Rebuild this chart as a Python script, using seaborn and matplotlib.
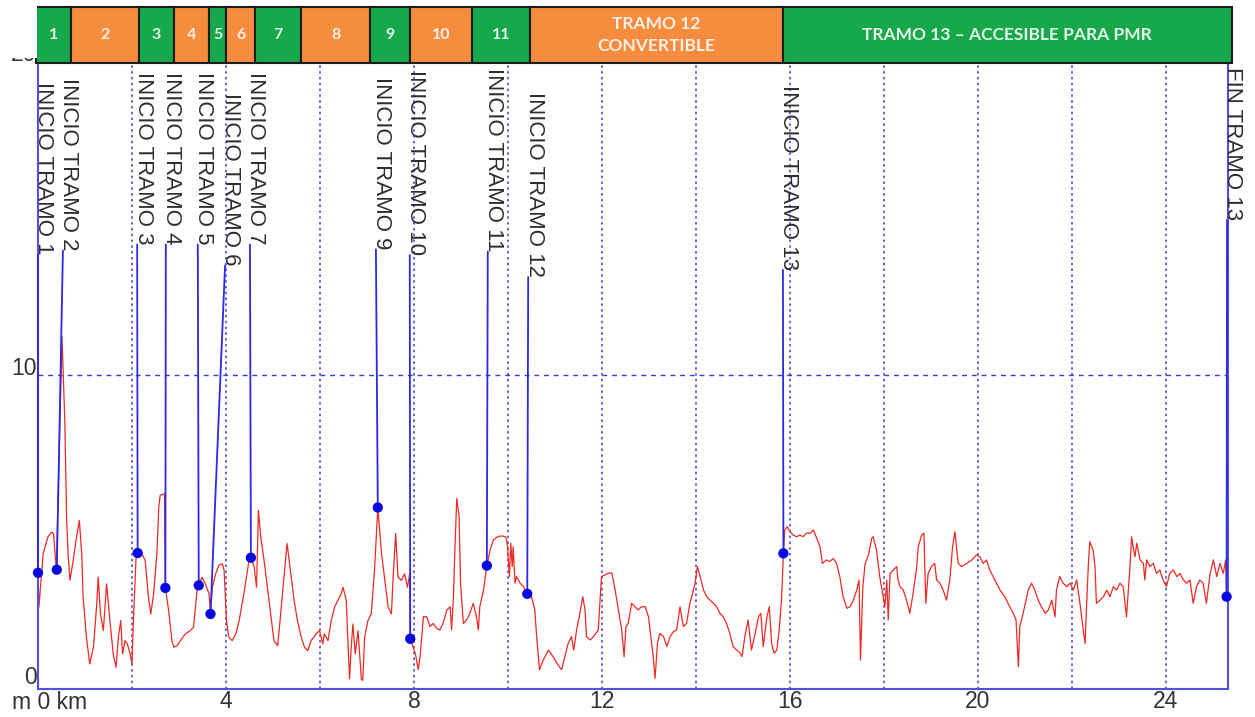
import matplotlib
matplotlib.use("Agg")
import matplotlib.pyplot as plt
import pandas as pd
import seaborn as sns
from matplotlib.patches import Rectangle

# perfil: distancia (km) y valor (m), por trozos
km_a = [0.00, 0.02, 0.11, 0.21, 0.29, 0.33, 0.39, 0.45, 0.51, 0.57,
        0.61, 0.64, 0.68, 0.75, 0.82, 0.88, 0.93, 0.96, 1.03, 1.10,
        1.18, 1.25, 1.28, 1.33, 1.39, 1.46, 1.53, 1.60, 1.66, 1.71,
        1.76, 1.80, 1.85, 1.90, 1.96, 2.00, 2.03, 2.09, 2.12, 2.21,
        2.28, 2.35, 2.40, 2.46, 2.53, 2.57, 2.60, 2.69, 2.71, 2.78,
        2.85, 2.89, 2.96, 3.03, 3.14, 3.24, 3.31, 3.39, 3.42, 3.49,
        3.56, 3.64, 3.67, 3.71, 3.78, 3.85, 3.92, 3.96, 4.01, 4.06,
        4.13, 4.21, 4.28, 4.38, 4.49, 4.53, 4.60, 4.65, 4.69, 4.74,
        4.81, 4.88, 4.95, 5.02, 5.10, 5.17, 5.24, 5.30, 5.38, 5.45,
        5.52, 5.60, 5.67, 5.74, 5.81, 5.92, 5.99, 6.06, 6.09, 6.17,
        6.24, 6.31, 6.38, 6.45, 6.49, 6.56, 6.59, 6.63, 6.66, 6.70,
        6.75, 6.81, 6.88, 6.91, 6.95, 7.02, 7.09, 7.16, 7.23, 7.31,
        7.38, 7.45, 7.52, 7.56, 7.61, 7.66, 7.73, 7.80, 7.86, 7.91,
        7.92, 8.03, 8.09]
val_a = [3.70, 2.61, 4.31, 4.84, 5.00, 4.95, 3.80, 7.50, 11.22, 8.56,
         5.37, 4.31, 3.46, 4.10, 4.84, 5.37, 4.31, 2.93, 1.65, 0.80,
         1.33, 2.71, 3.56, 2.39, 1.86, 3.35, 2.18, 1.12, 0.69, 1.65,
         2.18, 1.12, 1.54, 1.44, 1.12, 0.80, 2.18, 4.31, 4.33, 4.31,
         4.10, 2.93, 2.39, 3.03, 4.31, 5.80, 6.17, 6.22, 3.22, 2.50,
         1.54, 1.33, 1.38, 1.54, 1.76, 1.86, 1.97, 3.24, 3.30, 3.56,
         3.35, 3.03, 2.39, 3.24, 3.67, 3.94, 3.99, 3.78, 2.18, 1.65,
         1.54, 1.76, 2.18, 3.03, 4.10, 4.18, 3.88, 3.24, 5.69, 4.84,
         4.10, 3.24, 2.39, 1.54, 1.38, 2.50, 3.67, 4.63, 3.67, 2.82,
         2.18, 1.65, 1.33, 1.22, 1.54, 1.76, 1.86, 1.44, 1.76, 1.54,
         2.18, 2.61, 2.82, 3.03, 3.24, 2.82, 1.65, 0.32, 1.22, 2.07,
         1.12, 1.86, 0.32, 0.27, 1.65, 2.18, 2.39, 3.78, 5.78, 4.31,
         3.46, 2.61, 2.39, 3.67, 4.95, 3.56, 3.46, 3.67, 3.24, 3.67,
         1.60, 1.12, 0.62]

km_b = [8.13, 8.20, 8.27, 8.34, 8.41, 8.48, 8.55, 8.62, 8.70, 8.77,
        8.80, 8.84, 8.87, 8.91, 8.96, 8.99, 9.05, 9.12, 9.19, 9.26,
        9.33, 9.37, 9.40, 9.48, 9.55, 9.62, 9.69, 9.76, 9.83, 9.90,
        9.96, 9.99, 10.03, 10.06, 10.09, 10.11, 10.15, 10.18, 10.26, 10.33,
        10.41, 10.50, 10.57, 10.61, 10.67, 10.75, 10.86, 10.96, 11.04, 11.14,
        11.21, 11.28, 11.35, 11.40, 11.46, 11.53, 11.59, 11.64, 11.67, 11.75,
        11.82, 11.92, 11.99, 12.06, 12.13, 12.21, 12.28, 12.35, 12.42, 12.47,
        12.51, 12.56, 12.63, 12.70, 12.77, 12.84, 12.92, 12.99, 13.04, 13.09,
        13.13, 13.18, 13.23, 13.31, 13.38, 13.45, 13.52, 13.59, 13.66, 13.73,
        13.80, 13.87, 13.93, 13.98, 14.03, 14.09, 14.16, 14.23, 14.30, 14.37,
        14.44, 14.51, 14.58, 14.65, 14.72, 14.79, 14.87, 14.94, 14.98, 15.04,
        15.11, 15.18, 15.26, 15.33, 15.38, 15.43, 15.51, 15.56, 15.61, 15.66,
        15.72, 15.77, 15.82, 15.86, 15.89, 15.94]
val_b = [1.03, 2.30, 2.30, 1.99, 2.09, 1.93, 1.88, 2.09, 2.52, 2.62,
         1.88, 2.94, 4.43, 6.07, 5.49, 3.37, 2.09, 2.20, 2.41, 2.73,
         2.30, 1.88, 2.62, 3.15, 3.93, 4.43, 4.75, 4.83, 4.87, 4.87,
         4.83, 4.53, 3.58, 4.64, 3.90, 4.53, 3.37, 3.58, 3.37, 3.26,
         3.03, 2.94, 2.52, 1.67, 0.61, 0.92, 1.24, 1.03, 0.82, 0.61,
         1.03, 1.45, 1.67, 1.24, 1.88, 2.41, 2.94, 2.52, 1.67, 1.56,
         1.67, 1.88, 3.58, 3.63, 3.68, 3.70, 3.15, 2.52, 1.88, 1.03,
         1.99, 2.09, 2.73, 2.62, 2.52, 2.62, 2.62, 2.30, 1.67, 1.03,
         0.34, 1.45, 1.77, 1.67, 1.35, 1.67, 1.83, 1.88, 2.62, 1.99,
         2.09, 2.73, 3.05, 3.37, 3.90, 3.58, 3.15, 2.94, 2.83, 2.73,
         2.62, 2.41, 2.30, 2.09, 1.77, 1.35, 1.24, 1.14, 1.03, 1.67,
         2.20, 1.24, 1.77, 2.30, 2.41, 1.35, 2.30, 2.62, 1.45, 1.14,
         1.24, 1.88, 2.83, 4.32, 5.06, 5.17]

km_c = [16.00, 16.07, 16.14, 16.21, 16.28, 16.35, 16.43, 16.50, 16.57, 16.64,
        16.69, 16.78, 16.85, 16.92, 16.99, 17.06, 17.13, 17.21, 17.28, 17.35,
        17.42, 17.47, 17.50, 17.55, 17.60, 17.67, 17.74, 17.77, 17.84, 17.91,
        17.97, 18.02, 18.06, 18.09, 18.13, 18.20, 18.27, 18.30, 18.34, 18.41,
        18.48, 18.55, 18.62, 18.66, 18.69, 18.73, 18.80, 18.85, 18.89, 18.94,
        19.01, 19.08, 19.12, 19.19, 19.26, 19.33, 19.40, 19.46, 19.51, 19.58,
        19.65, 19.76, 19.87, 19.97, 20.04, 20.11, 20.18, 20.25, 20.36, 20.47,
        20.57, 20.64, 20.75, 20.81, 20.86, 20.89, 20.96, 21.07, 21.14, 21.21,
        21.28, 21.35, 21.43, 21.50, 21.57, 21.64, 21.67, 21.74, 21.81, 21.89,
        21.96, 22.03, 22.10, 22.17, 22.24, 22.28, 22.31, 22.35, 22.38, 22.42,
        22.45, 22.49, 22.52, 22.60, 22.67, 22.74, 22.81, 22.88, 22.95, 23.02,
        23.09, 23.16, 23.20, 23.23, 23.27, 23.30, 23.34, 23.38, 23.45, 23.52,
        23.55, 23.59, 23.66, 23.73, 23.80, 23.87, 23.94, 24.01, 24.08, 24.16,
        24.23, 24.30, 24.37, 24.44, 24.51, 24.58, 24.65, 24.72, 24.79, 24.86,
        24.94, 25.01, 25.08, 25.15, 25.22, 25.27, 25.29]
val_c = [5.01, 4.90, 4.85, 4.90, 4.85, 4.96, 4.96, 5.06, 4.80, 4.53,
         4.00, 4.11, 4.06, 4.16, 4.00, 3.58, 2.94, 2.57, 2.62, 2.83,
         3.15, 3.47, 0.92, 3.26, 4.00, 4.27, 4.80, 4.85, 4.43, 3.58,
         3.05, 2.62, 3.47, 2.20, 3.68, 3.79, 3.90, 3.47, 3.26, 3.15,
         2.83, 2.41, 3.05, 3.47, 3.79, 4.53, 4.90, 4.96, 2.73, 3.68,
         3.90, 4.00, 3.47, 3.37, 3.15, 2.83, 3.47, 4.53, 5.01, 4.00,
         3.90, 4.00, 4.11, 4.27, 4.21, 4.00, 4.11, 3.79, 3.47, 3.15,
         2.94, 2.73, 2.41, 2.20, 0.71, 1.99, 2.41, 3.15, 3.37, 3.15,
         2.83, 2.62, 2.41, 2.52, 2.83, 2.30, 3.15, 3.58, 3.37, 3.26,
         3.37, 3.15, 3.47, 2.73, 1.88, 1.45, 2.62, 4.00, 4.69, 4.53,
         4.43, 3.90, 2.73, 2.83, 2.94, 3.15, 2.94, 3.26, 3.15, 3.37,
         3.26, 2.30, 3.15, 3.79, 4.85, 4.53, 4.21, 4.64, 4.11, 4.00,
         3.47, 4.11, 3.90, 4.00, 3.68, 3.79, 3.47, 3.26, 3.68, 3.79,
         3.58, 3.68, 3.47, 3.37, 3.47, 2.73, 3.26, 3.47, 3.37, 2.73,
         3.68, 4.11, 3.58, 4.00, 3.68, 4.11, 2.94]

# hitos (inicio / fin de tramo)
hito_km = [0.00, 0.40, 2.12, 2.71, 3.42, 3.67, 4.53, 7.23, 7.92, 9.55, 10.41, 15.86, 25.29]
hito_val = [3.70, 3.80, 4.33, 3.22, 3.30, 2.39, 4.18, 5.78, 1.60, 3.93, 3.03, 4.32, 2.94]
hito_txt = ["INICIO TRAMO 1", "INICIO TRAMO 2", "INICIO TRAMO 3", "INICIO TRAMO 4",
            "INICIO TRAMO 5", "INICIO TRAMO 6", "INICIO TRAMO 7", "INICIO TRAMO 9",
            "INICIO TRAMO 10", "INICIO TRAMO 11", "INICIO TRAMO 12", "INICIO TRAMO 13",
            "FIN TRAMO 13"]

# barra superior de tramos
tramo_ini = [-0.04, 0.70, 2.15, 2.89, 3.64, 4.00, 4.62, 5.60, 7.06, 7.91, 9.23, 10.47, 15.85]
tramo_fin = [0.70, 2.15, 2.89, 3.64, 4.00, 4.62, 5.60, 7.06, 7.91, 9.23, 10.47, 15.85, 25.40]
tramo_txt = ["1", "2", "3", "4", "5", "6", "7", "8", "9", "10", "11",
             "TRAMO 12\nCONVERTIBLE", "TRAMO 13 – ACCESIBLE PARA PMR"]
tramo_tipo = ["v", "n", "v", "n", "v", "n", "v", "n", "v", "n", "v", "n", "v"]

x_ticks = [0, 4, 8, 12, 16, 20, 24]
x_ticklabels = ["", "4", "8", "12", "16", "20", "24"]
y_ticks = [0, 10, 20]

# posicion de las etiquetas verticales (km, valor de arriba)
etiq_x = [0.0, 0.53, 2.11, 2.72, 3.40, 3.98, 4.51, 7.19, 7.91, 9.57, 10.43, 15.85, 25.30]
etiq_top = [19.33, 19.46, 19.65, 19.65, 19.65, 18.98, 19.65, 19.49, 19.71, 19.78, 19.01, 19.24, 19.81]

AZUL = "#3b3bd8"
VERDE = "#17a84b"
NARANJA = "#f68c3d"

sns.set_style("white")
plt.rcParams["font.family"] = ["Liberation Sans", "DejaVu Sans"]

W, H = 1255, 717
fig = plt.figure(figsize=(W / 100, H / 100), dpi=100)
ax = fig.add_axes([38 / W, 28 / H, 1190 / W, 628 / H])

perfil = pd.DataFrame({"km": km_a + km_b + km_c, "val": val_a + val_b + val_c})
sns.lineplot(data=perfil, x="km", y="val", ax=ax, color="#ee2a22", lw=0.9,
             sort=False, estimator=None, zorder=2)

ax.set_xlim(0, 25.32)
ax.set_ylim(0, 20)
ax.set_xlabel("")
ax.set_ylabel("")
ax.set_xticks(x_ticks, x_ticklabels)
ax.set_xticks([2, 6, 10, 14, 18, 22], minor=True)
ax.set_yticks(y_ticks, [str(v) for v in y_ticks], va="baseline")
ax.get_yticklabels()[0].set_va("bottom")  # el "0" queda justo encima de "m 0 km"
ax.tick_params(axis="both", which="both", length=0, labelsize=16.5, colors="#333333")
ax.tick_params(axis="x", pad=1)
ax.tick_params(axis="y", pad=1)
ax.set_axisbelow(True)
ax.grid(True, axis="x", which="both", color=AZUL, ls=(0, (1.6, 2.2)), lw=1.1)
ax.grid(True, axis="y", which="major", color=AZUL, ls=(0, (3.5, 3.5)), lw=1.0)
for side in ["left", "bottom", "right"]:
    ax.spines[side].set_color("#5050e6")
    ax.spines[side].set_linewidth(1.5)
ax.spines["top"].set_visible(False)

ax.annotate("m 0 km", xy=(0, 0), xycoords="data", xytext=(-19, -1.5),
            textcoords="offset points", ha="left", va="top",
            fontsize=16.5, color="#333333", annotation_clip=False)

# etiquetas verticales y lineas guia
textos = []
for x, top, txt in zip(etiq_x, etiq_top, hito_txt):
    t = ax.annotate(txt, xy=(x, top), xytext=(-3.3, 0), textcoords="offset points",
                    rotation=270, ha="left", va="top", fontsize=16,
                    color="#2e2e2e", annotation_clip=False, zorder=3)
    textos.append(t)

fig.canvas.draw()
inv = ax.transData.inverted()
for t, x, hx, hy in zip(textos, etiq_x, hito_km, hito_val):
    y_end = inv.transform((0, t.get_window_extent().y0))[1]
    ax.plot([hx, x], [hy, y_end], color="#2a2ae8", lw=1.3, zorder=3, clip_on=False)

sns.scatterplot(x=hito_km, y=hito_val, ax=ax, color="#0808e0", s=55,
                edgecolor="none", zorder=4, clip_on=False)

# barra de tramos
axb = fig.add_axes([38 / W, 654 / H, 1190 / W, 56 / H])
colores = [VERDE if t == "v" else NARANJA for t in tramo_tipo]
anchos = [f - i for i, f in zip(tramo_ini, tramo_fin)]
axb.barh(0, anchos, left=tramo_ini, height=1, color=colores,
         edgecolor="#1c1c1c", lw=1.5, clip_on=False)
axb.set_xlim(ax.get_xlim())
axb.set_ylim(-0.5, 0.5)
axb.axis("off")
for i, f, txt in zip(tramo_ini, tramo_fin, tramo_txt):
    size = 12.5 if len(txt) > 3 else 11.5
    axb.text((i + f) / 2, 0, txt, ha="center", va="center", fontsize=size,
             fontweight="bold", family=["Lato", "DejaVu Sans"], color="white",
             alpha=0.88, linespacing=1.45)

# el recorte original tapa casi todo el "20"
fig.add_artist(Rectangle((0, 1 - 58 / H), 37 / W, 58 / H, transform=fig.transFigure,
                         facecolor="white", edgecolor="none", zorder=10))

fig.savefig("out.png", dpi=100, facecolor="white")
